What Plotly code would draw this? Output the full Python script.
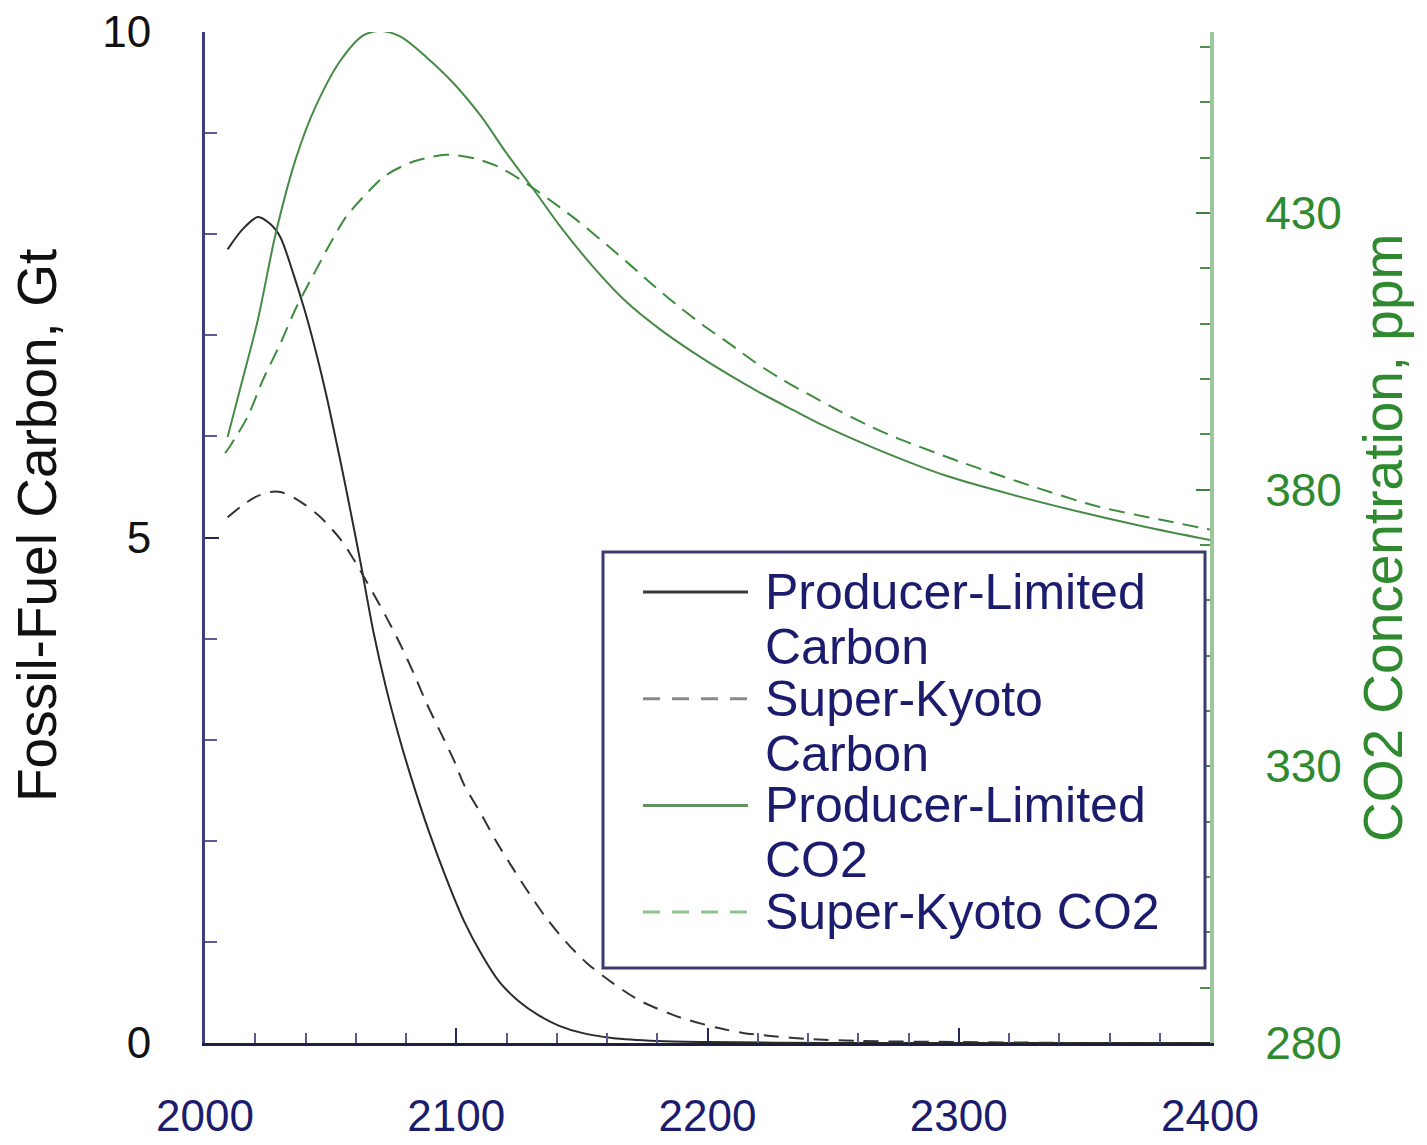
import plotly.graph_objects as go

# --- Fossil-fuel carbon emissions, Gt per year ---
pl_carbon_years = [2009, 2015, 2021, 2026, 2030, 2035, 2040, 2044, 2048, 2052, 2056, 2062,
                   2067, 2072, 2077, 2082, 2089, 2096, 2103, 2110, 2117, 2125, 2133, 2141,
                   2150, 2162, 2180, 2200, 2250, 2300, 2400]
pl_carbon = [7.85, 8.05, 8.17, 8.10, 7.97, 7.62, 7.22, 6.85, 6.44, 5.98, 5.50, 4.74,
             4.07, 3.52, 3.05, 2.63, 2.10, 1.63, 1.21, 0.88, 0.61, 0.41, 0.27, 0.17,
             0.10, 0.05, 0.02, 0.01, 0.0, 0.0, 0.0]

sk_carbon_years = [2009, 2015, 2020, 2026, 2030, 2035, 2040, 2046, 2054, 2060, 2072, 2078,
                   2083, 2088, 2094, 2099, 2103, 2110, 2116, 2123, 2129, 2136, 2144, 2152,
                   2163, 2173, 2186, 2192, 2204, 2214, 2225, 2240, 2260, 2300, 2350, 2400]
sk_carbon = [5.20, 5.32, 5.40, 5.45, 5.45, 5.40, 5.32, 5.20, 4.98, 4.75, 4.22, 3.93,
             3.66, 3.37, 3.06, 2.80, 2.56, 2.26, 1.99, 1.71, 1.48, 1.23, 0.99, 0.79,
             0.58, 0.42, 0.28, 0.23, 0.15, 0.10, 0.07, 0.04, 0.02, 0.01, 0.0, 0.0]

# --- Atmospheric CO2 concentration, ppm ---
pl_co2_years = [2009, 2015, 2021, 2028, 2036, 2044, 2054, 2063, 2070, 2078, 2088, 2099,
                2110, 2120, 2131, 2141, 2155, 2168, 2181, 2194, 2208, 2221, 2234, 2246,
                2269, 2295, 2322, 2348, 2374, 2400]
pl_co2 = [389.5, 400.0, 410.6, 426.0, 439.6, 449.2, 457.6, 462.1, 462.9, 461.8, 458.2, 453.4,
          447.4, 440.8, 434.1, 427.8, 420.0, 413.8, 409.0, 404.9, 400.9, 397.5, 394.4, 391.6,
          387.0, 382.5, 379.0, 376.0, 373.3, 370.9]

sk_co2_years = [2008, 2010, 2017, 2023, 2030, 2036, 2043, 2050, 2056, 2063, 2072, 2083,
                2096, 2107, 2117, 2128, 2141, 2148, 2160, 2170, 2179, 2188, 2198, 2209,
                2219, 2230, 2242, 2253, 2265, 2275, 2302, 2328, 2355, 2381, 2400]
sk_co2 = [386.6, 387.9, 393.2, 399.8, 406.4, 412.6, 418.7, 424.6, 429.2, 432.9, 436.8, 439.3,
          440.5, 439.9, 438.3, 435.3, 431.1, 428.7, 424.2, 420.3, 416.7, 413.3, 409.8, 406.3,
          403.0, 399.8, 396.8, 394.1, 391.4, 389.4, 384.8, 380.8, 377.0, 374.5, 372.8]

series_names = ["Producer-Limited<br>Carbon", "Super-Kyoto<br>Carbon",
                "Producer-Limited<br>CO2", "Super-Kyoto CO2"]

x_ticks = [2000, 2100, 2200, 2300, 2400]
left_ticks = [0, 5, 10]
right_ticks = [280, 330, 380, 430]

FONT = "Liberation Sans, Arial, sans-serif"
NAVY = "#1c1c6e"
GREEN_TXT = "#2f8a2f"

line_styles = [
    dict(color="#2a2a2a", width=2),
    dict(color="#333333", width=2, dash="15px,10px"),
    dict(color="#468a46", width=2),
    dict(color="#3d8c3d", width=2, dash="16px,9px"),
]
legend_styles = [
    dict(color="#3a3a3a", width=3),
    dict(color="#8a8a8a", width=3, dash="17px,12px"),
    dict(color="#5f925f", width=3),
    dict(color="#8cc48c", width=3, dash="17px,12px"),
]

fig = go.Figure()
data = [(pl_carbon_years, pl_carbon, "y"), (sk_carbon_years, sk_carbon, "y"),
        (pl_co2_years, pl_co2, "y2"), (sk_co2_years, sk_co2, "y2")]
for (xs, ys, ax), name, style in zip(data, series_names, line_styles):
    fig.add_trace(go.Scatter(x=xs, y=ys, yaxis=ax, mode="lines", name=name,
                             line=dict(shape="spline", smoothing=0.8, **style),
                             showlegend=False, hoverinfo="skip"))

W, H = 1427, 1145
L, R, T, B = 205, 217, 32, 102
pw, ph = W - L - R, H - T - B


def px(xp):
    return (xp - L) / pw


def py(yp):
    return (H - B - yp) / ph


fig.update_layout(
    width=W, height=H,
    margin=dict(l=L, r=R, t=T, b=B, autoexpand=False),
    paper_bgcolor="white", plot_bgcolor="white",
    font=dict(family=FONT),
    showlegend=False,
    xaxis=dict(
        range=[2000, 2400], tickvals=x_ticks, showgrid=False, zeroline=False,
        automargin=False,
        showline=True, linecolor="#1e1e40", linewidth=3,
        ticks="inside", ticklen=15, tickwidth=2, tickcolor="#26265a",
        minor=dict(dtick=20, tick0=2000, ticks="inside", ticklen=10, tickwidth=2,
                   tickcolor="#5a5a90", showgrid=False),
        tickfont=dict(size=44, color=NAVY, family=FONT),
        ticklabelstandoff=32,
    ),
    yaxis=dict(
        range=[0, 10], tickvals=left_ticks, showgrid=False, zeroline=False,
        automargin=False,
        showline=True, linecolor="#3e3e7c", linewidth=3,
        ticks="inside", ticklen=14, tickwidth=2, tickcolor="#26265a",
        minor=dict(dtick=1, tick0=0, ticks="inside", ticklen=12, tickwidth=2,
                   tickcolor="#5a5a96", showgrid=False),
        tickfont=dict(size=44, color="#111111", family=FONT),
        ticklabelstandoff=42,
    ),
    yaxis2=dict(
        range=[280, 462.7], overlaying="y", side="right", tickvals=right_ticks,
        showgrid=False, zeroline=False, automargin=False,
        showline=True, linecolor="#9cc79c", linewidth=4,
        ticks="inside", ticklen=14, tickwidth=2, tickcolor="#3f7f3f",
        minor=dict(dtick=10, tick0=280, ticks="inside", ticklen=10, tickwidth=2,
                   tickcolor="#4f8f4f", showgrid=False),
        tickfont=dict(size=46, color=GREEN_TXT, family=FONT),
        ticklabelstandoff=42,
    ),
)

annotations = [
    dict(text="Fossil-Fuel Carbon, Gt", x=px(37), y=py(526), xref="paper", yref="paper",
         textangle=-90, showarrow=False, xanchor="center", yanchor="middle",
         font=dict(size=55, color="#111111", family=FONT)),
    dict(text="CO2 Concentration, ppm", x=px(1383), y=py(538), xref="paper", yref="paper",
         textangle=-90, showarrow=False, xanchor="center", yanchor="middle",
         font=dict(size=55, color=GREEN_TXT, family=FONT)),
]

# Legend panel drawn as a boxed key in the lower-right of the plot
shapes = [dict(type="rect", xref="paper", yref="paper",
               x0=px(603), x1=px(1205), y0=py(968), y1=py(552),
               line=dict(color="#3a3a6e", width=3), fillcolor="white", layer="above")]

entry_top = 592
entry_step = 106.7
row_step = 55
for i, (name, style) in enumerate(zip(series_names, legend_styles)):
    y0 = entry_top + i * entry_step
    shapes.append(dict(type="line", xref="paper", yref="paper",
                       x0=px(643), x1=px(748), y0=py(y0), y1=py(y0),
                       line=style, layer="above"))
    for j, row in enumerate(name.split("<br>")):
        annotations.append(dict(text=row, x=px(763), y=py(y0 + j * row_step),
                                xref="paper", yref="paper", showarrow=False,
                                xanchor="left", yanchor="middle",
                                font=dict(size=50, color=NAVY, family=FONT)))

fig.update_layout(shapes=shapes, annotations=annotations)

fig.write_html("out.html", config=dict(displayModeBar=False))
